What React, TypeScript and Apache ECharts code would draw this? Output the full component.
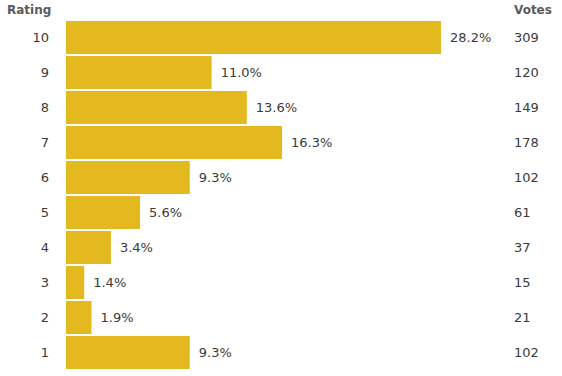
import React, { useEffect, useRef } from "react";
import * as echarts from "echarts";

const ratings = ["10", "9", "8", "7", "6", "5", "4", "3", "2", "1"];
const votes = [309, 120, 149, 178, 102, 61, 37, 15, 21, 102];
const percents = ["28.2%", "11.0%", "13.6%", "16.3%", "9.3%", "5.6%", "3.4%", "1.4%", "1.9%", "9.3%"];
const leftHeader = "Rating";
const rightHeader = "Votes";

const FONT = "DejaVu Sans, Verdana, sans-serif";

export default function App() {
  const ref = useRef<HTMLDivElement>(null);
  useEffect(() => {
    if (!ref.current) return;
    const chart = echarts.init(ref.current, null, { renderer: "svg" });
    chart.setOption({
      animation: false,
      grid: { left: 66, right: 121, top: 20, bottom: 6, containLabel: false },
      xAxis: {
        type: "value",
        min: 0,
        max: 309,
        show: false,
      },
      yAxis: [
        {
          type: "category",
          data: ratings,
          inverse: true,
          position: "left",
          axisLine: { show: false },
          axisTick: { show: false },
          axisLabel: { margin: 17, fontSize: 13, color: "#3a3a3a", fontFamily: FONT },
        },
        {
          type: "category",
          data: votes.map(String),
          inverse: true,
          position: "right",
          axisLine: { show: false },
          axisTick: { show: false },
          axisLabel: { margin: 73, align: "left", fontSize: 13, color: "#3a3a3a", fontFamily: FONT },
        },
      ],
      graphic: [
        {
          type: "text",
          left: 7,
          top: 4,
          style: { text: leftHeader, font: `bold 12px ${FONT}`, fill: "#5a5a5a" },
        },
        {
          type: "text",
          left: 514,
          top: 4,
          style: { text: rightHeader, font: `bold 12px ${FONT}`, fill: "#5a5a5a" },
        },
      ],
      series: [
        {
          type: "bar",
          data: votes,
          barWidth: 33,
          itemStyle: { color: "#e4b91f" },
          label: {
            show: true,
            position: "right",
            distance: 9,
            formatter: (p: any) => percents[p.dataIndex],
            fontSize: 13,
            color: "#3a3a3a",
            fontFamily: FONT,
          },
        },
      ],
    });
    return () => chart.dispose();
  }, []);
  return <div ref={ref} style={{ width: 562, height: 376, position: "absolute", left: 0, top: 0 }} />;
}
